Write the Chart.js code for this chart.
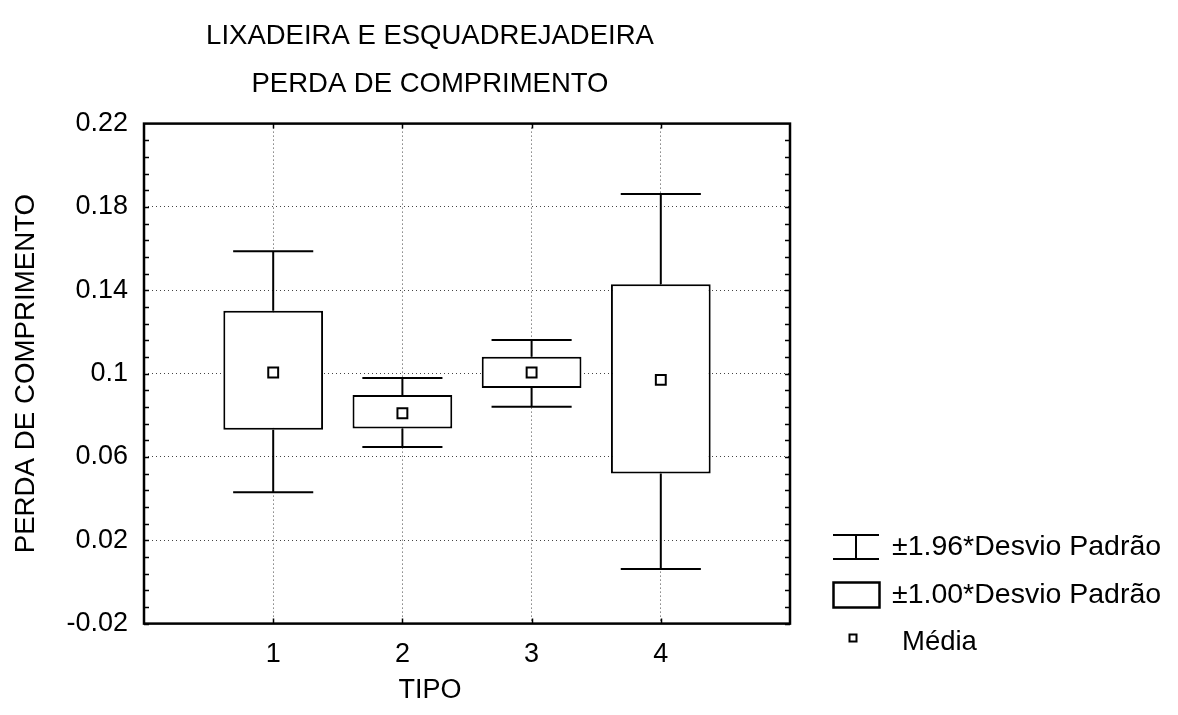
<!DOCTYPE html>
<html><head><meta charset="utf-8">
<script src="https://cdn.jsdelivr.net/npm/chart.js@4.4.1/dist/chart.umd.min.js"></script>
<style>
html,body{margin:0;padding:0;background:#fff;}
#wrap{position:relative;width:1178px;height:715px;overflow:hidden;}
#c{position:absolute;left:0;top:0;}
.leg{position:absolute;font-family:"Liberation Sans",Arial,sans-serif;font-size:28.5px;color:#000;line-height:28px;white-space:nowrap;}
.ico{position:absolute;}
</style></head><body>
<div id="wrap"><canvas id="c" width="1178" height="715"></canvas><div id="legend"></div></div>
<script>
// ---- data ----
const tipos = [1, 2, 3, 4];
const medias = [0.1005, 0.0810, 0.1005, 0.0970];
const caixaInf = [0.0731, 0.0737, 0.0931, 0.0521];   // média - 1.00*DP
const caixaSup = [0.1302, 0.0897, 0.1081, 0.1429];   // média + 1.00*DP
const bigodeInf = [0.0430, 0.0648, 0.0841, 0.0062];  // média - 1.96*DP
const bigodeSup = [0.1587, 0.0979, 0.1161, 0.1862];  // média + 1.96*DP
const yTicks = [-0.02, 0.02, 0.06, 0.1, 0.14, 0.18, 0.22];
const xTicks = [1, 2, 3, 4];
const titulo = ['LIXADEIRA E ESQUADREJADEIRA', 'PERDA DE COMPRIMENTO'];
const eixoX = 'TIPO';
const eixoY = 'PERDA DE COMPRIMENTO';
const legendas = ['±1.96*Desvio Padrão', '±1.00*Desvio Padrão', 'Média'];

// ---- styling / construction ----
const FAM = '"Liberation Sans", Arial, sans-serif';
const CAP = 0.31;     // half width of whisker caps, in x units
const whiskerPts = [];
tipos.forEach((t, i) => {
  whiskerPts.push({x: t, y: caixaSup[i]}, {x: t, y: bigodeSup[i]}, {x: t, y: null});
  whiskerPts.push({x: t - CAP, y: bigodeSup[i]}, {x: t + CAP, y: bigodeSup[i]}, {x: t, y: null});
  whiskerPts.push({x: t, y: caixaInf[i]}, {x: t, y: bigodeInf[i]}, {x: t, y: null});
  whiskerPts.push({x: t - CAP, y: bigodeInf[i]}, {x: t + CAP, y: bigodeInf[i]}, {x: t, y: null});
});
const boxPts = tipos.map((t, i) => ({x: t, y: [caixaInf[i], caixaSup[i]]}));
const meanPts = tipos.map((t, i) => ({x: t, y: medias[i]}));

const framePlugin = {
  id: 'frame',
  afterDraw(chart) {
    const ctx = chart.ctx;
    const {left, right, top, bottom} = chart.chartArea;
    const ys = chart.scales.y, xs = chart.scales.x;
    ctx.save();
    ctx.strokeStyle = '#000';
    ctx.lineWidth = 1.5;
    ctx.beginPath();
    for (let k = 0; k < yTicks.length - 1; k++) {
      for (let j = 0; j < 5; j++) {
        const v = yTicks[k] + (yTicks[k + 1] - yTicks[k]) * j / 5;
        const py = Math.round(ys.getPixelForValue(v)) + 0.5;
        ctx.moveTo(left, py); ctx.lineTo(left + 5, py);
        ctx.moveTo(right, py); ctx.lineTo(right - 5, py);
      }
    }
    xTicks.forEach(t => {
      const px = Math.round(xs.getPixelForValue(t)) + 0.5;
      ctx.moveTo(px, bottom); ctx.lineTo(px, bottom - 5);
      ctx.moveTo(px, top); ctx.lineTo(px, top + 5);
    });
    ctx.stroke();
    ctx.lineWidth = 2.5;
    ctx.strokeRect(left, top, right - left, bottom - top);
    ctx.restore();
  }
};

new Chart(document.getElementById('c'), {
  type: 'scatter',
  data: {
    datasets: [
      { type: 'scatter', label: legendas[2], data: meanPts, order: 0,
        pointStyle: 'rect', pointRadius: 7, pointBorderWidth: 2,
        pointBorderColor: '#000', pointBackgroundColor: '#fff' },
      { type: 'bar', label: legendas[1], data: boxPts, order: 1,
        backgroundColor: '#fff', borderColor: '#000', borderWidth: 2,
        borderSkipped: false, barPercentage: 1, categoryPercentage: 0.772 },
      { type: 'line', label: legendas[0], data: whiskerPts, order: 2,
        borderColor: '#000', borderWidth: 2, pointRadius: 0, spanGaps: false,
        fill: false, tension: 0 }
    ]
  },
  options: {
    responsive: false,
    animation: false,
    events: [],
    layout: { padding: { left: 0, right: 318, top: 0, bottom: 0 } },
    scales: {
      x: {
        type: 'linear', min: 0, max: 5, offset: false,
        afterBuildTicks: s => { s.ticks = xTicks.map(v => ({value: v})); },
        ticks: { color: '#000', padding: 15, font: {family: FAM, size: 27, lineHeight: 1.2},
                 callback: v => String(v) },
        grid: { offset: false, color: '#444', lineWidth: 1, drawTicks: false },
        border: { display: false, dash: [1, 3] },
        afterFit: s => { s.height = 46; }
      },
      y: {
        type: 'linear', min: -0.02, max: 0.22,
        afterBuildTicks: s => { s.ticks = yTicks.map(v => ({value: v})); },
        ticks: { color: '#000', padding: 16, font: {family: FAM, size: 27, lineHeight: 1.2},
                 callback: v => String(+Number(v).toFixed(2)) },
        grid: { color: '#444', lineWidth: 1, drawTicks: false },
        border: { display: false, dash: [1, 3] },
        title: { display: true, text: eixoY, color: '#000',
                 font: {family: FAM, size: 27.7, lineHeight: 1.2}, padding: {top: 10, bottom: 0} },
        afterFit: s => { s.width = 144; }
      },
      y2: {
        type: 'linear', position: 'right', min: -0.02, max: 0.22,
        ticks: { display: false }, grid: { display: false }, border: { display: false },
        afterFit: s => { s.width = 70; }
      }
    },
    plugins: {
      legend: { display: false },
      tooltip: { enabled: false },
      title: { display: true, text: titulo, color: '#000',
               font: {family: FAM, size: 27.5, weight: 'normal', lineHeight: 1.72},
               padding: {top: 13, bottom: 16} },
      subtitle: { display: true, position: 'bottom', text: eixoX, color: '#000',
                  font: {family: FAM, size: 27, weight: 'normal', lineHeight: 1.2},
                  padding: {top: 5, bottom: 8} }
    }
  },
  plugins: [framePlugin]
});

// ---- legend (HTML) ----
const leg = document.getElementById('legend');
const icons = [
  '<svg class="ico" style="left:832px;top:533px" width="49" height="28"><path d="M1 2H47M1 26H47M24 2V26" stroke="#000" stroke-width="2" fill="none"/></svg>',
  '<svg class="ico" style="left:832px;top:581px" width="50" height="29"><rect x="1.5" y="1.5" width="46" height="25" stroke="#000" stroke-width="2.5" fill="#fff"/></svg>',
  '<svg class="ico" style="left:848px;top:633px" width="11" height="11"><rect x="1.5" y="1.5" width="7" height="7" stroke="#000" stroke-width="2" fill="#fff"/></svg>'
];
const textPos = [[892, 531, 28.5], [892, 579, 28.5], [902, 627, 27.5]];
legendas.forEach((txt, i) => {
  leg.insertAdjacentHTML('beforeend', icons[i]);
  const d = document.createElement('div');
  d.className = 'leg';
  d.style.left = textPos[i][0] + 'px';
  d.style.top = textPos[i][1] + 'px';
  d.style.fontSize = textPos[i][2] + 'px';
  d.textContent = txt;
  leg.appendChild(d);
});
</script>
</body></html>
